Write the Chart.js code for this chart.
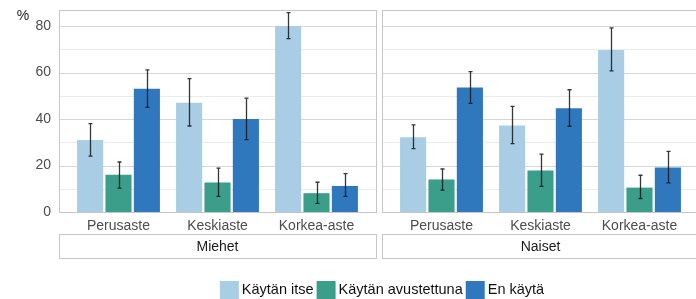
<!DOCTYPE html>
<html>
<head>
<meta charset="utf-8">
<script src="https://cdn.jsdelivr.net/npm/chart.js@4/dist/chart.umd.min.js"></script>
<style>
  html, body { margin: 0; padding: 0; background: #fff; }
  #wrap { position: relative; width: 696px; height: 299px; overflow: hidden; }
  canvas { position: absolute; left: 0; top: 0; }
</style>
</head>
<body>
<div id="wrap">
  <canvas id="c1" width="696" height="299"></canvas>
  <canvas id="c2" width="696" height="299"></canvas>
</div>
<script>
// ---- data ----
const categories = ['Perusaste', 'Keskiaste', 'Korkea-aste'];
const seriesNames = ['Käytän itse', 'Käytän avustettuna', 'En käytä'];
const panelNames = ['Miehet', 'Naiset'];
const yTickValues = [0, 20, 40, 60, 80];
const yMinorValues = [10, 30, 50, 70];

const miehetItse = [31, 47, 80];
const miehetItseLow = [24, 37, 74.6];
const miehetItseHigh = [38, 57.4, 85.8];
const miehetAvust = [16, 12.7, 8.1];
const miehetAvustLow = [10.3, 6.7, 3.7];
const miehetAvustHigh = [21.5, 18.9, 12.8];
const miehetEn = [53, 40, 11.2];
const miehetEnLow = [45, 31.1, 6.7];
const miehetEnHigh = [61.1, 49, 16.5];

const naisetItse = [32.2, 37.2, 69.7];
const naisetItseLow = [27.3, 29.4, 60.7];
const naisetItseHigh = [37.5, 45.4, 79.2];
const naisetAvust = [14, 17.8, 10.5];
const naisetAvustLow = [9.4, 11, 5.8];
const naisetAvustHigh = [18.5, 24.9, 15.8];
const naisetEn = [53.6, 44.6, 19.1];
const naisetEnLow = [46.7, 36.9, 12.5];
const naisetEnHigh = [60.4, 52.6, 26.1];

// ---- styles ----
const colors = ['#a8cde4', '#3a9e8b', '#2f78bd'];
const FONT = "'Liberation Sans', Arial, sans-serif";
const Y_MAX = 86.9;

function datasets(vals, lows, highs) {
  return vals.map((v, i) => ({
    label: seriesNames[i],
    data: v,
    low: lows[i],
    high: highs[i],
    backgroundColor: colors[i],
    borderWidth: 0,
    categoryPercentage: 0.86,
    barPercentage: 0.92
  }));
}

const panelPlugin = {
  id: 'panel',
  beforeDatasetsDraw(chart, args, opts) {
    const ctx = chart.ctx;
    const y = chart.scales.y;
    const ca = chart.chartArea;
    const L = opts.left, R = opts.right;
    ctx.save();
    ctx.lineWidth = 1;
    ctx.strokeStyle = '#ebebeb';
    yMinorValues.forEach(v => {
      const py = Math.round(y.getPixelForValue(v)) + 0.5;
      ctx.beginPath(); ctx.moveTo(L, py); ctx.lineTo(R, py); ctx.stroke();
    });
    ctx.strokeStyle = '#d6d6d6';
    yTickValues.forEach(v => {
      const py = Math.round(y.getPixelForValue(v)) + 0.5;
      ctx.beginPath(); ctx.moveTo(L, py); ctx.lineTo(R, py); ctx.stroke();
    });
    ctx.strokeStyle = '#c6c6c6';
    const top = Math.round(ca.top) + 0.5;
    const bot = Math.round(y.getPixelForValue(0)) + 0.5;
    ctx.strokeRect(L + 0.5, top, R - L, bot - top);
    ctx.fillStyle = '#ffffff';
    ctx.fillRect(L + 0.5, 234.5, R - L, 24);
    ctx.strokeRect(L + 0.5, 234.5, R - L, 24);
    ctx.fillStyle = '#1a1a1a';
    ctx.font = '14px ' + FONT;
    ctx.textAlign = 'center';
    ctx.textBaseline = 'middle';
    ctx.fillText(opts.title, (L + R) / 2, 247);
    ctx.restore();
  },
  afterDatasetsDraw(chart) {
    const ctx = chart.ctx;
    const y = chart.scales.y;
    ctx.save();
    ctx.strokeStyle = 'rgba(20,20,20,0.85)';
    ctx.lineWidth = 1.3;
    chart.data.datasets.forEach((ds, di) => {
      const meta = chart.getDatasetMeta(di);
      meta.data.forEach((el, i) => {
        const x = Math.round(el.x) + 0.5;
        const yl = y.getPixelForValue(ds.low[i]);
        const yh = y.getPixelForValue(ds.high[i]);
        ctx.beginPath();
        ctx.moveTo(x, yl); ctx.lineTo(x, yh);
        ctx.moveTo(x - 2, yl); ctx.lineTo(x + 2, yl);
        ctx.moveTo(x - 2, yh); ctx.lineTo(x + 2, yh);
        ctx.stroke();
      });
    });
    ctx.restore();
  },
  afterDraw(chart, args, opts) {
    if (!opts.legend) return;
    const ctx = chart.ctx;
    ctx.save();
    ctx.font = '14.5px ' + FONT;
    ctx.textBaseline = 'middle';
    ctx.textAlign = 'left';
    const box = 19, gap = 3, itemGap = 3;
    const widths = chart.data.datasets.map(ds => ctx.measureText(ds.label).width);
    let total = 0;
    widths.forEach((w, i) => { total += box + gap + w + (i < widths.length - 1 ? itemGap : 0); });
    let x = 382 - total / 2;
    chart.data.datasets.forEach((ds, i) => {
      ctx.fillStyle = ds.backgroundColor;
      ctx.fillRect(x, 281, box, 18);
      x += box + gap;
      ctx.fillStyle = '#111';
      ctx.fillText(ds.label, x, 290);
      x += widths[i] + itemGap;
    });
    ctx.fillStyle = '#222';
    ctx.font = '14px ' + FONT;
    ctx.textAlign = 'center';
    ctx.fillText('%', 23, 16);
    ctx.restore();
  }
};

function makeChart(id, panelIdx, data, showY, padLeft, padRight, L, R, legend) {
  return new Chart(document.getElementById(id), {
    type: 'bar',
    data: { labels: categories, datasets: data },
    plugins: [panelPlugin],
    options: {
      responsive: false,
      animation: false,
      devicePixelRatio: 1,
      layout: { padding: { left: padLeft, right: padRight, top: 10, bottom: 66 } },
      plugins: {
        legend: { display: false },
        tooltip: { enabled: false },
        panel: { left: L, right: R, title: panelNames[panelIdx], legend: legend }
      },
      scales: {
        x: {
          grid: { display: false, drawTicks: false },
          border: { display: false },
          ticks: { color: '#4d4d4d', font: { family: FONT, size: 14 }, padding: 6, maxRotation: 0, autoSkip: false },
          afterFit(s) { s.height = 21; }
        },
        y: {
          display: showY,
          min: 0,
          max: Y_MAX,
          grid: { display: false, drawTicks: true, tickLength: 18 },
          border: { display: false },
          ticks: {
            stepSize: 10,
            padding: 0,
            color: '#4d4d4d',
            font: { family: FONT, size: 14 },
            callback: v => (yTickValues.includes(v) ? String(v) : '')
          },
          afterFit(s) { s.width = showY ? 69 : 0; }
        }
      }
    }
  });
}

makeChart('c1', 0,
  datasets([miehetItse, miehetAvust, miehetEn],
           [miehetItseLow, miehetAvustLow, miehetEnLow],
           [miehetItseHigh, miehetAvustHigh, miehetEnHigh]),
  true, 0, 330, 59, 376, true);

makeChart('c2', 1,
  datasets([naisetItse, naisetAvust, naisetEn],
           [naisetItseLow, naisetAvustLow, naisetEnLow],
           [naisetItseHigh, naisetAvustHigh, naisetEnHigh]),
  false, 392, 7, 382, 699, false);
</script>
</body>
</html>
